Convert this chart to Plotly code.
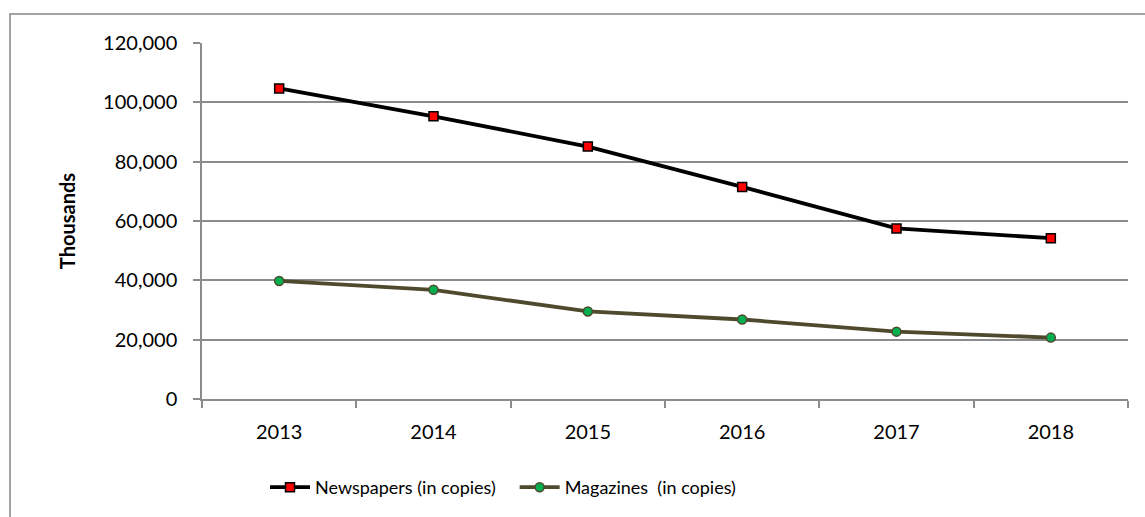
import plotly.graph_objects as go

# Circulation of print media, thousands of copies
years = ["2013", "2014", "2015", "2016", "2017", "2018"]
newspapers = [104700, 95300, 85100, 71500, 57500, 54200]
magazines = [39800, 36800, 29500, 26800, 22700, 20700]
y_ticks = [0, 20000, 40000, 60000, 80000, 100000, 120000]
y_tick_labels = ["0", "20,000", "40,000", "60,000", "80,000", "100,000", "120,000"]

W, H = 1145, 517
ML, MR, MT, MB = 202, 17, 43, 117
FONT = "Lato"
FS = 20
GRID = "#8c8c8c"

fig = go.Figure()
fig.add_trace(go.Scatter(
    x=years, y=newspapers, mode="lines+markers",
    name="Newspapers (in copies)\u00a0\u00a0\u00a0",
    line=dict(color="black", width=3.8),
    marker=dict(symbol="square", size=9, color="#ff0000",
                line=dict(color="black", width=1.5)),
))
fig.add_trace(go.Scatter(
    x=years, y=magazines, mode="lines+markers",
    name="Magazines\u00a0 (in copies)",
    line=dict(color="#4f4a2e", width=3.8),
    marker=dict(symbol="circle", size=9, color="#00b050",
                line=dict(color="#4f4a2e", width=1.5)),
))

pw = W - ML - MR
ph = H - MT - MB
# outer chart frame
fig.add_shape(
    type="rect", xref="paper", yref="paper",
    x0=(10 - ML) / pw, x1=(W + 5 - ML) / pw,
    y0=(H - (H + 5) - MB) / ph, y1=(H - 14 - MB) / ph,
    line=dict(color="#868686", width=1.5), fillcolor="rgba(0,0,0,0)",
    layer="below",
)

fig.update_layout(
    width=W, height=H,
    margin=dict(l=ML, r=MR, t=MT, b=MB, pad=0),
    paper_bgcolor="white", plot_bgcolor="white",
    font=dict(family=FONT, size=FS, color="black"),
    showlegend=True,
    legend=dict(orientation="h", x=(503 - ML) / pw, xanchor="center",
                y=-0.245, yanchor="middle",
                font=dict(family=FONT, size=18, color="black"),
                itemwidth=40, tracegroupgap=0),
    xaxis=dict(
        type="category", range=[-0.5, 5.5],
        showgrid=False, showline=True, linecolor=GRID, linewidth=1.5,
        ticks="outside", tickson="boundaries", ticklen=7,
        tickcolor=GRID, tickwidth=1.5,
        tickfont=dict(family=FONT, size=FS), ticklabelstandoff=14,
    ),
    yaxis=dict(
        range=[0, 120000], tickvals=y_ticks, ticktext=y_tick_labels,
        showgrid=True, gridcolor=GRID, gridwidth=1.5,
        showline=True, linecolor=GRID, linewidth=1.5,
        ticks="outside", ticklen=7, tickcolor=GRID, tickwidth=1.5,
        tickfont=dict(family=FONT, size=FS), ticklabelstandoff=12,
        zeroline=False,
        title=dict(text="<b>Thousands</b>", font=dict(family=FONT, size=FS),
                   standoff=22),
    ),
)

fig.write_html("out.html")
